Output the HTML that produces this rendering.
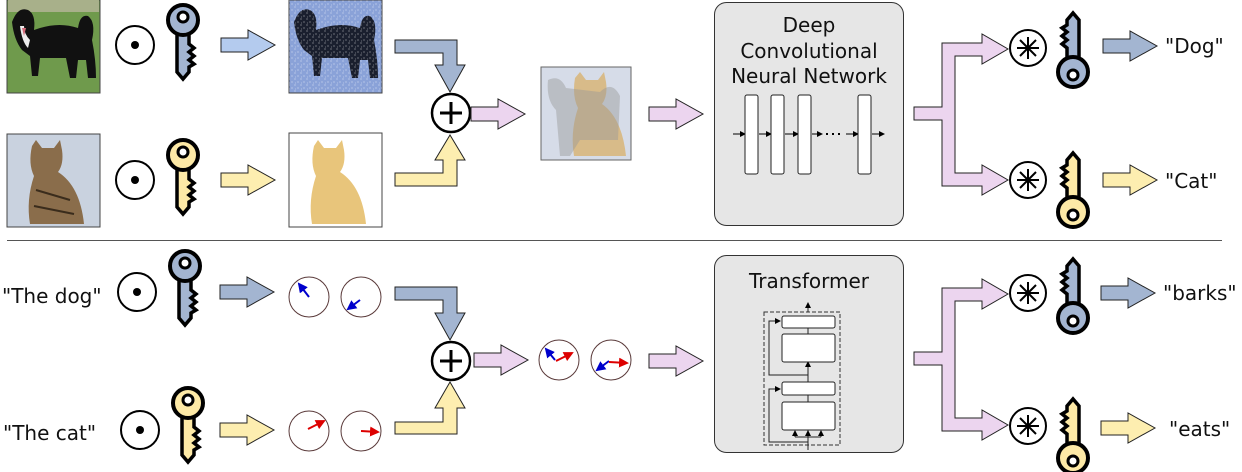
<!DOCTYPE html>
<html><head><meta charset="utf-8"><style>
html,body{margin:0;padding:0;background:#fff;}
svg{display:block;}
text{font-family:"DejaVu Sans","Liberation Sans",sans-serif;}
</style></head><body>
<svg width="1242" height="472" viewBox="0 0 1242 472" xmlns="http://www.w3.org/2000/svg">
<defs>
<g id="keyB"><path d="M-6 12 L-6 52 L0 59 L6 52 L6 47 L11 44 L6 40 L11 36 L6 32 L11 28 L6 24 L6 12 Z" fill="#a3b5d1" stroke="#000" stroke-width="3.5" stroke-linejoin="miter"/><circle r="15" fill="#a3b5d1" stroke="#000" stroke-width="4"/><circle cy="-3" r="5" fill="#fff" stroke="#000" stroke-width="3"/></g>
<g id="keyY"><path d="M-6 12 L-6 52 L0 59 L6 52 L6 47 L11 44 L6 40 L11 36 L6 32 L11 28 L6 24 L6 12 Z" fill="#fde9a6" stroke="#000" stroke-width="3.5"/><circle r="15" fill="#fde9a6" stroke="#000" stroke-width="4"/><circle cy="-3" r="5" fill="#fff" stroke="#000" stroke-width="3"/></g>
<g id="odot"><circle r="19" fill="#fff" stroke="#000" stroke-width="2"/><circle r="4" fill="#000"/></g>
<g id="oplus"><circle r="19" fill="#fff" stroke="#000" stroke-width="2.5"/><path d="M-11 0H11M0 -11V11" stroke="#000" stroke-width="3"/></g>
<g id="ostar"><circle r="18" fill="#fff" stroke="#000" stroke-width="2"/><path d="M-11 0H11M0 -11V11M-8 -8L8 8M-8 8L8 -8" stroke="#000" stroke-width="2"/></g>
<path id="arr" d="M0 -7 H27 V-15 L54 0 L27 15 V7 H0 Z" stroke="#222" stroke-width="1"/>
<g id="branch"><path d="M0 -6 H28 V-70 H68 V-79 L94 -64 L68 -49 V-57 H41 V60 H68 V52 L94 67 L68 82 V73 H28 V7 H0 Z" fill="#ecd5ef" stroke="#222" stroke-width="1"/></g>
<marker id="ah" markerWidth="6" markerHeight="6" refX="5" refY="3" orient="auto"><path d="M0 0L6 3L0 6Z" fill="#000"/></marker>
<marker id="ahB" markerWidth="5" markerHeight="5" refX="4" refY="2.5" orient="auto"><path d="M0 0L5 2.5L0 5Z" fill="#00c"/></marker>
<marker id="ahR" markerWidth="5" markerHeight="5" refX="4" refY="2.5" orient="auto"><path d="M0 0L5 2.5L0 5Z" fill="#d00"/></marker>
<pattern id="noise" width="6" height="6" patternUnits="userSpaceOnUse"><path d="M0 1h2M3 4h2M1 5h1" stroke="#fff" stroke-opacity=".35"/></pattern>
</defs>

<!-- TOP ROW -->
<rect x="7" y="0" width="93" height="93" fill="#6f9a4c" stroke="#444"/>
<rect x="8" y="0" width="91" height="12" fill="#a8b08a"/>
<path d="M12 22 Q18 6 28 10 Q36 14 34 30 L40 28 Q60 22 78 28 Q80 14 88 16 Q96 22 92 40 Q96 60 96 78 L88 78 L86 60 L78 60 L76 78 L70 78 L66 58 L40 58 L38 76 L32 76 L30 56 L22 50 Q14 40 12 22 Z" fill="#111"/>
<path d="M20 26 Q22 42 28 48 L30 40 Q24 34 24 26Z" fill="#eee"/>
<path d="M22 28 L24 36 L26 28Z" fill="#d46b7a"/>
<use href="#odot" x="135" y="45"/>
<use href="#keyB" x="183" y="20"/>
<use href="#arr" x="221" y="45" fill="#b4cbee"/>
<rect x="289" y="0" width="93" height="93" fill="#8aa2d8" stroke="#444"/>
<path d="M294 22 Q300 6 310 10 Q318 14 316 30 L322 28 Q342 22 360 28 Q362 14 370 16 Q378 22 374 40 Q378 60 378 78 L370 78 L368 60 L360 60 L358 78 L352 78 L348 58 L322 58 L320 76 L314 76 L312 56 L304 50 Q296 40 294 22 Z" fill="#1a1f2e"/>
<rect x="289" y="0" width="93" height="93" fill="url(#noise)"/>

<rect x="7" y="134" width="93" height="93" fill="#c9d2df" stroke="#444"/>
<path d="M32 146 L36 140 L42 148 L54 148 L60 140 L62 150 Q64 164 58 172 Q80 186 84 224 L30 224 Q26 200 34 176 Q28 164 32 146Z" fill="#8a6d4b"/>
<path d="M36 190 L70 200 M34 206 L74 214" stroke="#3a2c1c" stroke-width="2"/>
<use href="#odot" x="135" y="180"/>
<use href="#keyY" x="183" y="155"/>
<use href="#arr" x="221" y="180" fill="#fdeeb0"/>
<rect x="289" y="133" width="93" height="94" fill="#fff" stroke="#444"/>
<path d="M314 146 L318 140 L324 148 L336 148 L342 140 L344 150 Q346 164 340 172 Q362 186 366 224 L312 224 Q308 200 316 176 Q310 164 314 146Z" fill="#e2b75a" opacity=".8"/>

<path d="M395 40 H457 V65 H465 L450 92 L435 65 H443 V53 H395 Z" fill="#a3b5d1" stroke="#222"/>
<path d="M395 186 H457 V160 H465 L450 135 L435 160 H443 V173 H395 Z" fill="#fdeeb0" stroke="#222"/>
<use href="#oplus" x="451" y="113"/>
<use href="#arr" x="471" y="114" fill="#ecd5ef"/>
<rect x="541" y="67" width="90" height="93" fill="#d6dce8" stroke="#666"/>
<path d="M575 78 L580 72 L586 80 L598 80 L604 72 L606 82 Q608 96 602 104 Q622 118 626 156 L574 156 Q570 132 578 108 Q572 96 575 78Z" fill="#d8b06a" opacity=".75"/>
<path d="M548 80 Q560 74 566 88 L600 92 Q612 80 620 96 L618 140 L580 140 L570 156 L560 156 L556 110 Q546 100 548 80Z" fill="#999" opacity=".45"/>
<use href="#arr" x="649" y="114" fill="#ecd5ef"/>

<rect x="714.5" y="2.5" width="189" height="223" rx="12" fill="#e6e6e6" stroke="#333"/>
<text x="809" y="32" font-size="20" text-anchor="middle" fill="#111">Deep</text>
<text x="809" y="58" font-size="20" text-anchor="middle" fill="#111">Convolutional</text>
<text x="809" y="83" font-size="20" text-anchor="middle" fill="#111">Neural Network</text>
<g stroke="#000" stroke-width="1" marker-end="url(#ah)">
<line x1="733" y1="134" x2="745" y2="134"/><line x1="759" y1="134" x2="771" y2="134"/><line x1="785" y1="134" x2="798" y2="134"/><line x1="812" y1="134" x2="822" y2="134"/><line x1="846" y1="134" x2="858" y2="134"/><line x1="872" y1="134" x2="884" y2="134"/>
</g>
<path d="M826 134h2M832 134h2M838 134h2" stroke="#000" stroke-width="2"/>
<g fill="#fff" stroke="#222"><rect x="745" y="95" width="13" height="79" rx="2"/><rect x="771" y="95" width="13" height="79" rx="2"/><rect x="798" y="95" width="13" height="79" rx="2"/><rect x="858" y="95" width="13" height="79" rx="2"/></g>

<use href="#branch" x="914" y="113"/>
<use href="#ostar" x="1028" y="48"/>
<use href="#ostar" x="1028" y="180"/>
<use href="#keyB" transform="translate(1073 72) rotate(180)"/>
<use href="#keyY" transform="translate(1073 212) rotate(180)"/>
<use href="#arr" x="1103" y="46" fill="#a3b5d1"/>
<use href="#arr" x="1103" y="180" fill="#fdeeb0"/>
<text x="1165" y="53" font-size="20" fill="#111">"Dog"</text>
<text x="1165" y="188" font-size="20" fill="#111">"Cat"</text>

<line x1="7" y1="240.5" x2="1222" y2="240.5" stroke="#555" stroke-width="1"/>

<!-- BOTTOM ROW -->
<text x="2" y="303" font-size="20" fill="#111">"The dog"</text>
<use href="#odot" x="137" y="292"/>
<use href="#keyB" x="185" y="266"/>
<use href="#arr" x="220" y="292" fill="#a3b5d1"/>
<text x="3" y="440" font-size="20" fill="#111">"The cat"</text>
<use href="#odot" x="140" y="430"/>
<use href="#keyY" x="188" y="403"/>
<use href="#arr" x="220" y="430" fill="#fdeeb0"/>

<g fill="none" stroke="#5a3a3a" stroke-width="1">
<circle cx="309" cy="297" r="20"/><circle cx="361" cy="297" r="20"/>
<circle cx="309" cy="431" r="20"/><circle cx="361" cy="431" r="20"/>
<circle cx="559" cy="360" r="20"/><circle cx="611" cy="360" r="20"/>
</g>
<g stroke-width="2">
<line x1="309" y1="297" x2="299" y2="284" stroke="#00c" marker-end="url(#ahB)"/>
<line x1="360" y1="300" x2="348" y2="309" stroke="#00c" marker-end="url(#ahB)"/>
<line x1="308" y1="429" x2="324" y2="421" stroke="#d00" marker-end="url(#ahR)"/>
<line x1="361" y1="431" x2="378" y2="432" stroke="#d00" marker-end="url(#ahR)"/>
<line x1="555" y1="360" x2="546" y2="349" stroke="#00c" marker-end="url(#ahB)"/>
<line x1="556" y1="361" x2="572" y2="353" stroke="#d00" marker-end="url(#ahR)"/>
<line x1="609" y1="361" x2="597" y2="370" stroke="#00c" marker-end="url(#ahB)"/>
<line x1="609" y1="362" x2="627" y2="363" stroke="#d00" marker-end="url(#ahR)"/>
</g>

<path d="M395 287 H457 V313 H465 L450 340 L435 313 H443 V300 H395 Z" fill="#a3b5d1" stroke="#222"/>
<path d="M395 434 H457 V408 H465 L450 382 L435 408 H443 V422 H395 Z" fill="#fdeeb0" stroke="#222"/>
<use href="#oplus" x="451" y="361"/>
<use href="#arr" x="474" y="360" fill="#ecd5ef"/>
<use href="#arr" x="649" y="361" fill="#ecd5ef"/>

<rect x="714.5" y="255.5" width="189" height="197" rx="12" fill="#e6e6e6" stroke="#333"/>
<text x="809" y="288" font-size="20" text-anchor="middle" fill="#111">Transformer</text>
<rect x="764" y="312" width="76" height="133" fill="none" stroke="#333" stroke-dasharray="4,2"/>
<g stroke="#222" stroke-width="1" fill="none">
<line x1="808" y1="312" x2="808" y2="303" marker-end="url(#ah)"/>
<line x1="808" y1="328" x2="808" y2="334"/>
<line x1="808" y1="382" x2="808" y2="362" marker-end="url(#ah)"/>
<line x1="808" y1="395" x2="808" y2="402"/>
<line x1="808" y1="450" x2="808" y2="430"/>
<path d="M808 375 H769 V321 H780" marker-end="url(#ah)"/>
<path d="M808 442 H769 V389 H780" marker-end="url(#ah)"/>
<path d="M795 437 H821"/>
<line x1="795" y1="437" x2="795" y2="431" marker-end="url(#ah)"/>
<line x1="808" y1="437" x2="808" y2="431" marker-end="url(#ah)"/>
<line x1="821" y1="437" x2="821" y2="431" marker-end="url(#ah)"/>
</g>
<g fill="#fff" stroke="#222"><rect x="782" y="316" width="53" height="12" rx="2"/><rect x="782" y="334" width="53" height="28" rx="2"/><rect x="782" y="382" width="53" height="13" rx="2"/><rect x="782" y="402" width="53" height="28" rx="2"/></g>

<use href="#branch" x="914" y="358"/>
<use href="#ostar" x="1028" y="293"/>
<use href="#ostar" x="1028" y="426"/>
<use href="#keyB" transform="translate(1073 318) rotate(180)"/>
<use href="#keyY" transform="translate(1073 458) rotate(180)"/>
<use href="#arr" x="1101" y="293" fill="#a3b5d1"/>
<use href="#arr" x="1101" y="428" fill="#fdeeb0"/>
<text x="1163" y="300" font-size="20" fill="#111">"barks"</text>
<text x="1169" y="436" font-size="20" fill="#111">"eats"</text>
</svg>
</body></html>
